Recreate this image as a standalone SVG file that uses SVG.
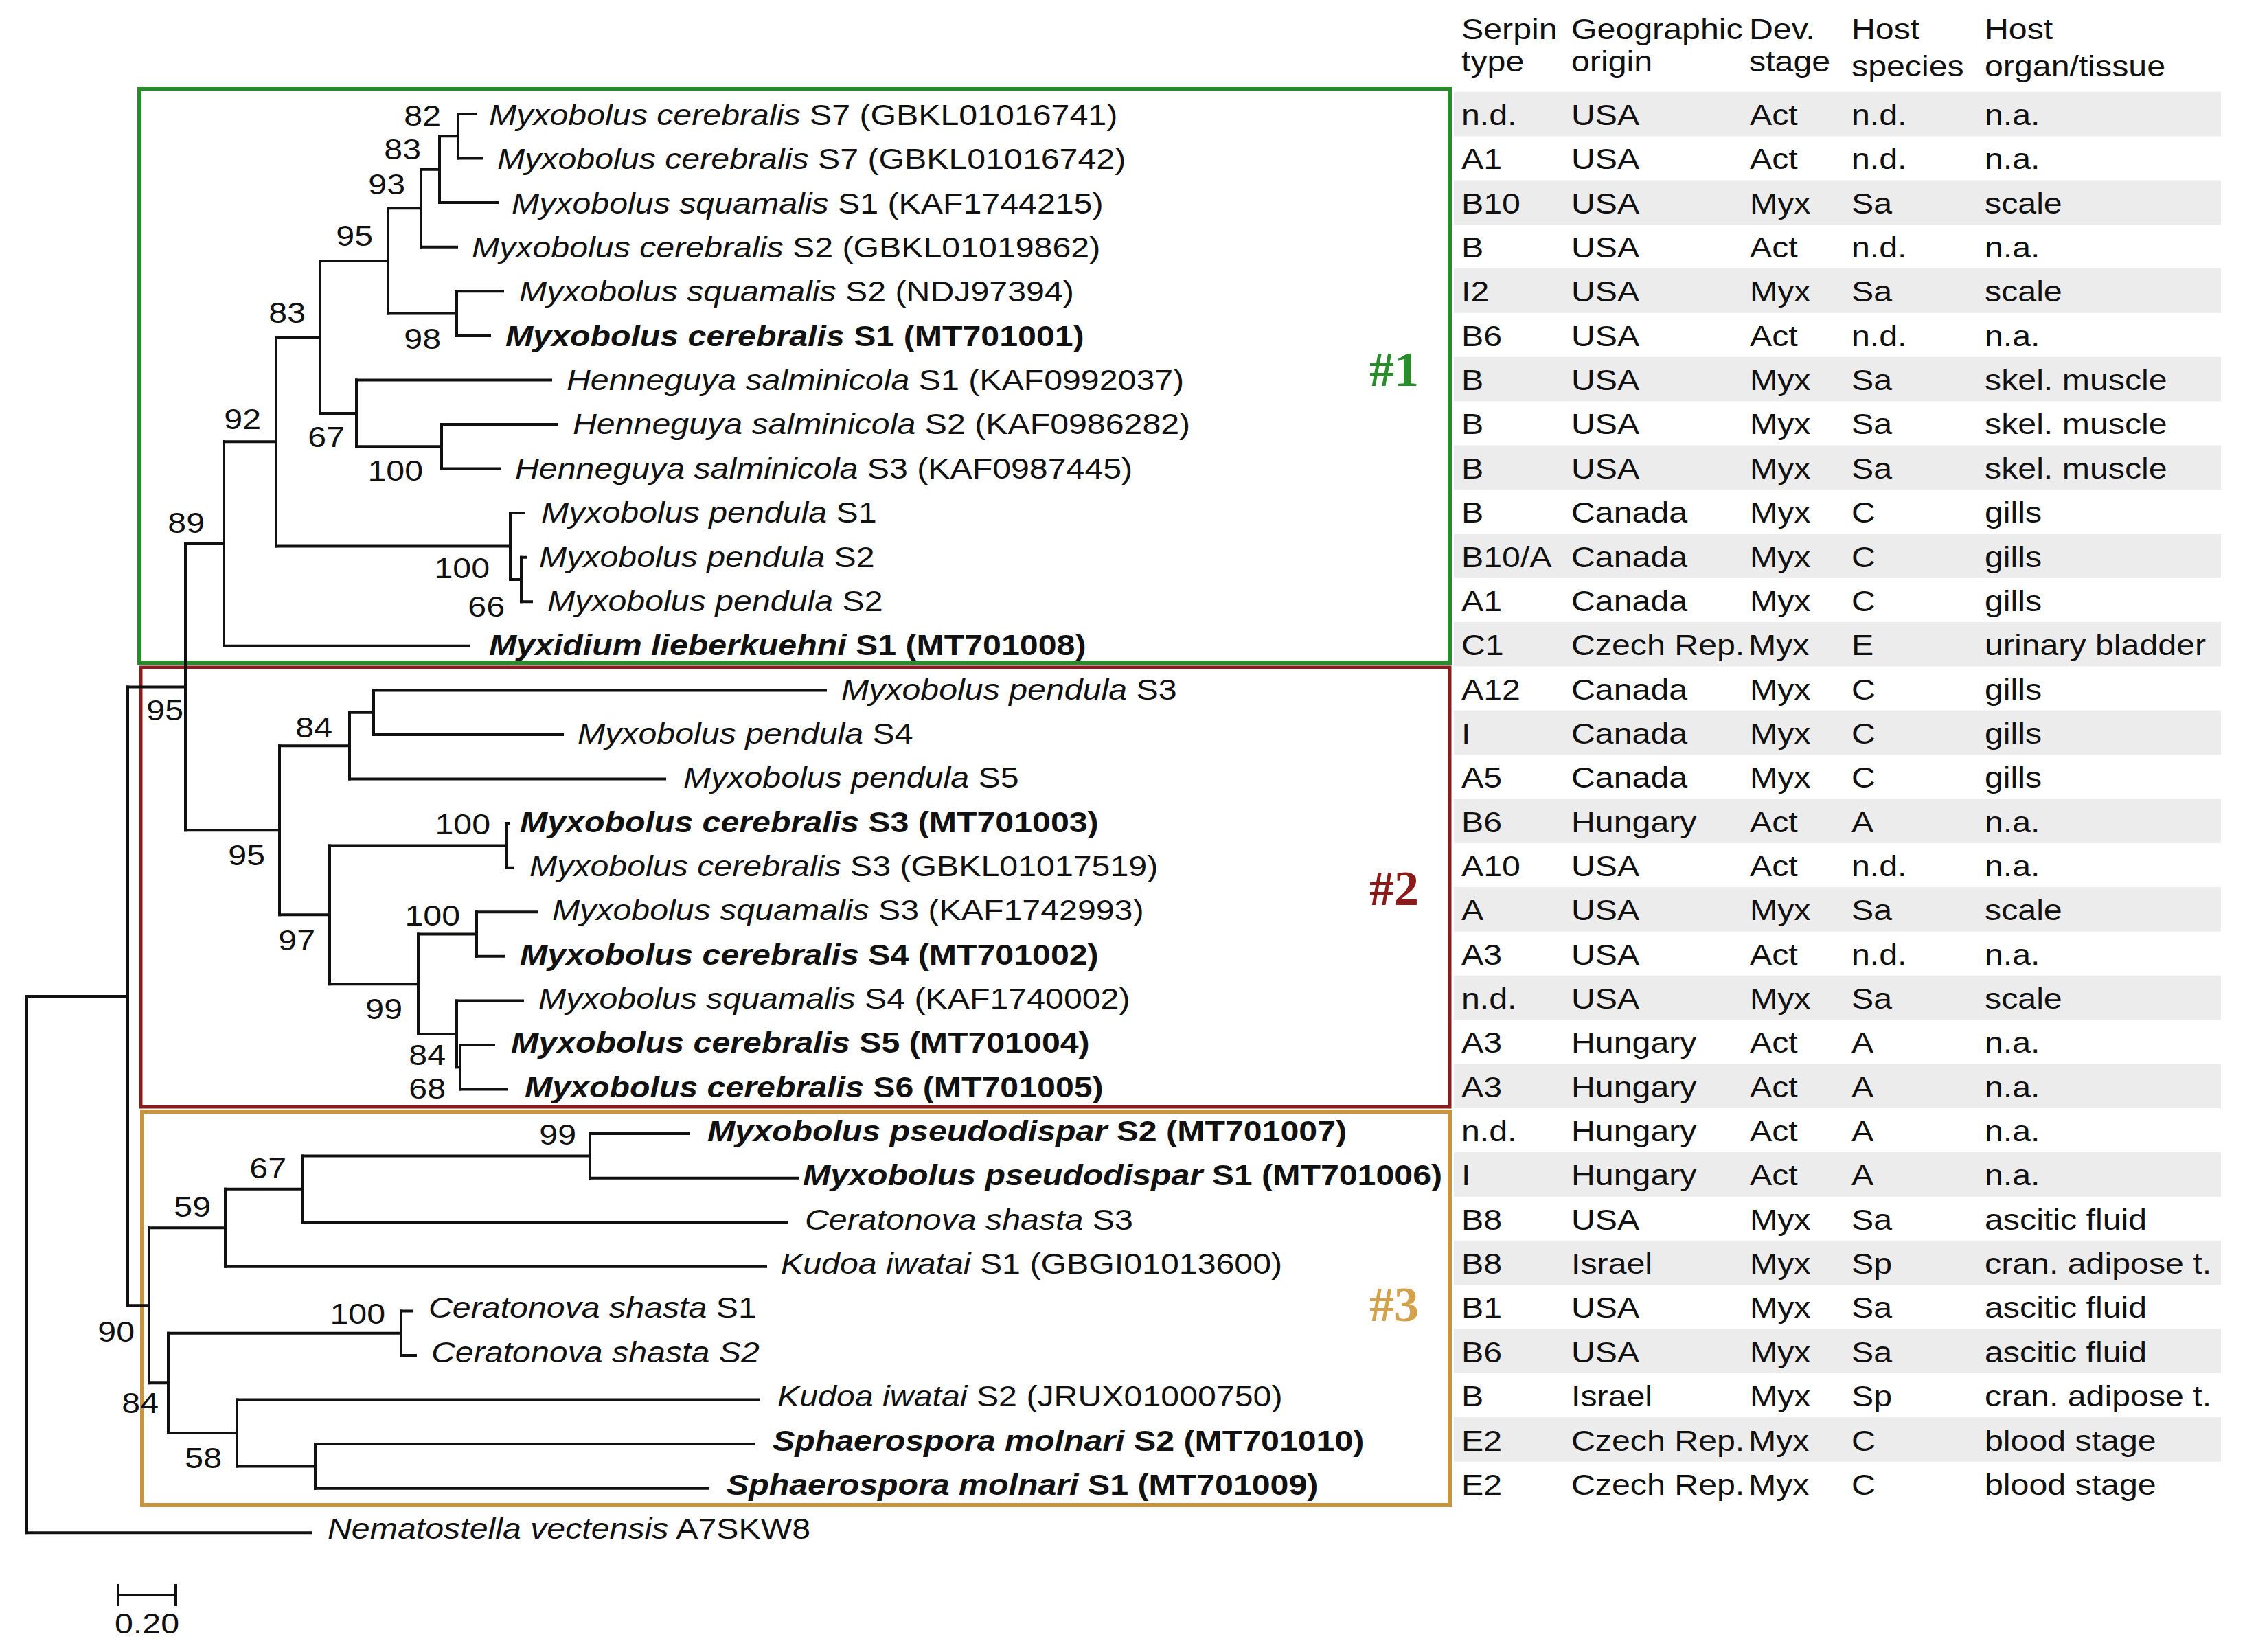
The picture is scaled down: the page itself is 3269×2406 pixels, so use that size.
<svg xmlns="http://www.w3.org/2000/svg" width="3269" height="2406" viewBox="0 0 3269 2406">
<style>
.t{font-family:"Liberation Sans",Arial,Helvetica,sans-serif;font-size:43px;fill:#111}
.i{font-style:italic}
.b{font-weight:bold}
.e{text-anchor:end}
.m{text-anchor:middle}
.br{fill:none;stroke:#111;stroke-width:4;stroke-linecap:square}
.hd{font-family:"Liberation Serif","Times New Roman",serif;font-weight:bold;font-size:72px}
.band{fill:#ececec}
</style>
<rect width="3269" height="2406" fill="#fff"/>

<g id="table-bands">
<rect class="band" x="2117" y="133.7" width="1117" height="64.6"/>
<rect class="band" x="2117" y="262.4" width="1117" height="64.6"/>
<rect class="band" x="2117" y="391.1" width="1117" height="64.6"/>
<rect class="band" x="2117" y="519.8" width="1117" height="64.6"/>
<rect class="band" x="2117" y="648.5" width="1117" height="64.6"/>
<rect class="band" x="2117" y="777.2" width="1117" height="64.6"/>
<rect class="band" x="2117" y="905.9" width="1117" height="64.6"/>
<rect class="band" x="2117" y="1034.6" width="1117" height="64.6"/>
<rect class="band" x="2117" y="1163.3" width="1117" height="64.6"/>
<rect class="band" x="2117" y="1292.0" width="1117" height="64.6"/>
<rect class="band" x="2117" y="1420.7" width="1117" height="64.6"/>
<rect class="band" x="2117" y="1549.4" width="1117" height="64.6"/>
<rect class="band" x="2117" y="1678.1" width="1117" height="64.6"/>
<rect class="band" x="2117" y="1806.8" width="1117" height="64.6"/>
<rect class="band" x="2117" y="1935.5" width="1117" height="64.6"/>
<rect class="band" x="2117" y="2064.2" width="1117" height="64.6"/>
</g>

<g id="clade-boxes" fill="none">
<rect x="203" y="129" width="1908" height="836" stroke="#2b8a2b" stroke-width="6"/>
<rect x="205" y="972" width="1906" height="640" stroke="#8b1c1c" stroke-width="5"/>
<rect x="207" y="1619" width="1904" height="573" stroke="#c89440" stroke-width="6"/>
<text class="hd" x="1994" y="562" fill="#2a8c2a">#1</text>
<text class="hd" x="1994" y="1318" fill="#8b1a1a">#2</text>
<text class="hd" x="1994" y="1924" fill="#d4a24c">#3</text>
</g>

<g id="connectors">
<path class="br" d="M667 166V230.6M640 198.3V295.1M613 246.7V359.7M665 424.3V488.9M565 303.2V456.6M643 618V682.6M519 553.4V650.3M466 379.9V601.9M759 811.7V876.3M743 747.1V844M402 490.9V795.5M326 643.2V940.8"/>
<path class="br" d="M544 1005.4V1070M509 1037.7V1134.6M737 1199.1V1263.7M694 1328.3V1392.8M670 1522V1586.5M665 1457.4V1554.3M609 1360.6V1505.9M480 1231.4V1433.2M407 1086.2V1332.3M270 792V1209.2"/>
<path class="br" d="M859 1651.1V1715.7M441 1683.4V1780.3M328 1731.8V1844.8M584 1909.4V1974M459 2103.1V2167.7M345 2038.5V2135.4M245 1941.7V2087M217 1788.3V2014.3M186 1000.6V1901.3M39 1451V2232.2"/>
<path class="br" d="M667 166H692M667 230.6H702M640 198.3H667M640 295.1H724M613 246.7H640M613 359.7H665M665 424.3H732M665 488.9H713M565 303.2H613M565 456.6H665M466 379.9H565M519 553.4H802M643 618H810M643 682.6H728M519 650.3H643M466 601.9H519M402 490.9H466M743 747.1H762M759 811.7H765M759 876.3H774M743 844H759M402 795.5H743M326 643.2H402M326 940.8H682M270 792H326"/>
<path class="br" d="M544 1005.4H1202M544 1070H819M509 1037.7H544M509 1134.6H968M407 1086.2H509M737 1199.1H741M737 1263.7H746M480 1231.4H737M694 1328.3H782M694 1392.8H733M609 1360.6H694M665 1457.4H761M670 1522H719M670 1586.5H737M665 1554.3H670M609 1505.9H665M480 1433.2H609M407 1332.3H480M270 1209.2H407M186 1000.6H270"/>
<path class="br" d="M859 1651.1H1003M859 1715.7H1162M441 1683.4H859M441 1780.3H1145M328 1731.8H441M328 1844.8H1115M217 1788.3H328M584 1909.4H600M584 1974H605M245 1941.7H584M345 2038.5H1105M459 2103.1H1097M459 2167.7H1031M345 2135.4H459M245 2087H345M217 2014.3H245M186 1901.3H217M39 1451H186M39 2232.2H452"/>
</g>

<g id="bootstrap">
<text class="t e" transform="matrix(1.123 0 0 1 642 183)">82</text>
<text class="t e" transform="matrix(1.123 0 0 1 613 232)">83</text>
<text class="t e" transform="matrix(1.123 0 0 1 590 283)">93</text>
<text class="t e" transform="matrix(1.123 0 0 1 543 358)">95</text>
<text class="t e" transform="matrix(1.123 0 0 1 642 508)">98</text>
<text class="t e" transform="matrix(1.123 0 0 1 445 470)">83</text>
<text class="t e" transform="matrix(1.123 0 0 1 502 651)">67</text>
<text class="t e" transform="matrix(1.123 0 0 1 616 700)">100</text>
<text class="t e" transform="matrix(1.123 0 0 1 380 625)">92</text>
<text class="t e" transform="matrix(1.123 0 0 1 713 842)">100</text>
<text class="t e" transform="matrix(1.123 0 0 1 735 898)">66</text>
<text class="t e" transform="matrix(1.123 0 0 1 298 776)">89</text>
<text class="t e" transform="matrix(1.123 0 0 1 267 1049)">95</text>
<text class="t e" transform="matrix(1.123 0 0 1 484 1074)">84</text>
<text class="t e" transform="matrix(1.123 0 0 1 386 1260)">95</text>
<text class="t e" transform="matrix(1.123 0 0 1 714 1215)">100</text>
<text class="t e" transform="matrix(1.123 0 0 1 459 1384)">97</text>
<text class="t e" transform="matrix(1.123 0 0 1 670 1348)">100</text>
<text class="t e" transform="matrix(1.123 0 0 1 586 1484)">99</text>
<text class="t e" transform="matrix(1.123 0 0 1 649 1551)">84</text>
<text class="t e" transform="matrix(1.123 0 0 1 649 1600)">68</text>
<text class="t e" transform="matrix(1.123 0 0 1 839 1667)">99</text>
<text class="t e" transform="matrix(1.123 0 0 1 417 1716)">67</text>
<text class="t e" transform="matrix(1.123 0 0 1 307 1772)">59</text>
<text class="t e" transform="matrix(1.123 0 0 1 196 1954)">90</text>
<text class="t e" transform="matrix(1.123 0 0 1 561 1928)">100</text>
<text class="t e" transform="matrix(1.123 0 0 1 231 2058)">84</text>
<text class="t e" transform="matrix(1.123 0 0 1 323 2138)">58</text>
</g>

<g id="leaf-01"><text class="t" transform="matrix(1.123 0 0 1 712 182)"><tspan class="i">Myxobolus cerebralis</tspan> S7 (GBKL01016741)</text></g>
<g id="leaf-02"><text class="t" transform="matrix(1.123 0 0 1 724 246.35)"><tspan class="i">Myxobolus cerebralis</tspan> S7 (GBKL01016742)</text></g>
<g id="leaf-03"><text class="t" transform="matrix(1.123 0 0 1 745 310.7)"><tspan class="i">Myxobolus squamalis</tspan> S1 (KAF1744215)</text></g>
<g id="leaf-04"><text class="t" transform="matrix(1.123 0 0 1 687 375.05)"><tspan class="i">Myxobolus cerebralis</tspan> S2 (GBKL01019862)</text></g>
<g id="leaf-05"><text class="t" transform="matrix(1.123 0 0 1 756 439.4)"><tspan class="i">Myxobolus squamalis</tspan> S2 (NDJ97394)</text></g>
<g id="leaf-06"><text class="t b" transform="matrix(1.123 0 0 1 736 503.75)"><tspan class="i">Myxobolus cerebralis</tspan> S1 (MT701001)</text></g>
<g id="leaf-07"><text class="t" transform="matrix(1.123 0 0 1 825 568.1)"><tspan class="i">Henneguya salminicola</tspan> S1 (KAF0992037)</text></g>
<g id="leaf-08"><text class="t" transform="matrix(1.123 0 0 1 834 632.45)"><tspan class="i">Henneguya salminicola</tspan> S2 (KAF0986282)</text></g>
<g id="leaf-09"><text class="t" transform="matrix(1.123 0 0 1 750 696.8)"><tspan class="i">Henneguya salminicola</tspan> S3 (KAF0987445)</text></g>
<g id="leaf-10"><text class="t" transform="matrix(1.123 0 0 1 788 761.15)"><tspan class="i">Myxobolus pendula</tspan> S1</text></g>
<g id="leaf-11"><text class="t" transform="matrix(1.123 0 0 1 785 825.5)"><tspan class="i">Myxobolus pendula</tspan> S2</text></g>
<g id="leaf-12"><text class="t" transform="matrix(1.123 0 0 1 797 889.85)"><tspan class="i">Myxobolus pendula</tspan> S2</text></g>
<g id="leaf-13"><text class="t b" transform="matrix(1.123 0 0 1 712 954.2)"><tspan class="i">Myxidium lieberkuehni</tspan> S1 (MT701008)</text></g>
<g id="leaf-14"><text class="t" transform="matrix(1.123 0 0 1 1225 1018.55)"><tspan class="i">Myxobolus pendula</tspan> S3</text></g>
<g id="leaf-15"><text class="t" transform="matrix(1.123 0 0 1 841 1082.9)"><tspan class="i">Myxobolus pendula</tspan> S4</text></g>
<g id="leaf-16"><text class="t" transform="matrix(1.123 0 0 1 995 1147.25)"><tspan class="i">Myxobolus pendula</tspan> S5</text></g>
<g id="leaf-17"><text class="t b" transform="matrix(1.123 0 0 1 757 1211.6)"><tspan class="i">Myxobolus cerebralis</tspan> S3 (MT701003)</text></g>
<g id="leaf-18"><text class="t" transform="matrix(1.123 0 0 1 771 1275.95)"><tspan class="i">Myxobolus cerebralis</tspan> S3 (GBKL01017519)</text></g>
<g id="leaf-19"><text class="t" transform="matrix(1.123 0 0 1 804 1340.3)"><tspan class="i">Myxobolus squamalis</tspan> S3 (KAF1742993)</text></g>
<g id="leaf-20"><text class="t b" transform="matrix(1.123 0 0 1 757 1404.65)"><tspan class="i">Myxobolus cerebralis</tspan> S4 (MT701002)</text></g>
<g id="leaf-21"><text class="t" transform="matrix(1.123 0 0 1 784 1469)"><tspan class="i">Myxobolus squamalis</tspan> S4 (KAF1740002)</text></g>
<g id="leaf-22"><text class="t b" transform="matrix(1.123 0 0 1 744 1533.35)"><tspan class="i">Myxobolus cerebralis</tspan> S5 (MT701004)</text></g>
<g id="leaf-23"><text class="t b" transform="matrix(1.123 0 0 1 764 1597.7)"><tspan class="i">Myxobolus cerebralis</tspan> S6 (MT701005)</text></g>
<g id="leaf-24"><text class="t b" transform="matrix(1.123 0 0 1 1030 1662.05)"><tspan class="i">Myxobolus pseudodispar</tspan> S2 (MT701007)</text></g>
<g id="leaf-25"><text class="t b" transform="matrix(1.123 0 0 1 1169 1726.4)"><tspan class="i">Myxobolus pseudodispar</tspan> S1 (MT701006)</text></g>
<g id="leaf-26"><text class="t" transform="matrix(1.123 0 0 1 1172 1790.75)"><tspan class="i">Ceratonova shasta</tspan> S3</text></g>
<g id="leaf-27"><text class="t" transform="matrix(1.123 0 0 1 1137 1855.1)"><tspan class="i">Kudoa iwatai</tspan> S1 (GBGI01013600)</text></g>
<g id="leaf-28"><text class="t" transform="matrix(1.123 0 0 1 624 1919.45)"><tspan class="i">Ceratonova shasta</tspan> S1</text></g>
<g id="leaf-29"><text class="t" transform="matrix(1.123 0 0 1 628 1983.8)"><tspan class="i">Ceratonova shasta S2</tspan></text></g>
<g id="leaf-30"><text class="t" transform="matrix(1.123 0 0 1 1132 2048.15)"><tspan class="i">Kudoa iwatai</tspan> S2 (JRUX01000750)</text></g>
<g id="leaf-31"><text class="t b" transform="matrix(1.123 0 0 1 1125 2112.5)"><tspan class="i">Sphaerospora molnari</tspan> S2 (MT701010)</text></g>
<g id="leaf-32"><text class="t b" transform="matrix(1.123 0 0 1 1058 2176.85)"><tspan class="i">Sphaerospora molnari</tspan> S1 (MT701009)</text></g>
<g id="leaf-33"><text class="t" transform="matrix(1.123 0 0 1 477 2241.2)"><tspan class="i">Nematostella vectensis</tspan> A7SKW8</text></g>

<g id="scale-bar">
<path class="br" d="M172 2323H256M172 2309V2337M256 2309V2337" stroke-linecap="butt"/>
<text class="t m" transform="matrix(1.123 0 0 1 214 2379)">0.20</text>
</g>

<g id="table-header">
<text class="t" transform="matrix(1.123 0 0 1 2128 57)">Serpin</text>
<text class="t" transform="matrix(1.123 0 0 1 2128 104)">type</text>
<text class="t" transform="matrix(1.123 0 0 1 2288 57)">Geographic</text>
<text class="t" transform="matrix(1.123 0 0 1 2288 104)">origin</text>
<text class="t" transform="matrix(1.123 0 0 1 2547 57)">Dev.</text>
<text class="t" transform="matrix(1.123 0 0 1 2547 104)">stage</text>
<text class="t" transform="matrix(1.123 0 0 1 2696 57)">Host</text>
<text class="t" transform="matrix(1.123 0 0 1 2696 111)">species</text>
<text class="t" transform="matrix(1.123 0 0 1 2890 57)">Host</text>
<text class="t" transform="matrix(1.123 0 0 1 2890 111)">organ/tissue</text>
</g>

<g id="table-rows">
<g transform="translate(0 182)"><text class="t" transform="matrix(1.123 0 0 1 2128 0)">n.d.</text><text class="t" transform="matrix(1.123 0 0 1 2288 0)">USA</text><text class="t" transform="matrix(1.123 0 0 1 2548 0)">Act</text><text class="t" transform="matrix(1.123 0 0 1 2696 0)">n.d.</text><text class="t" transform="matrix(1.123 0 0 1 2890 0)">n.a.</text></g>
<g transform="translate(0 246.35)"><text class="t" transform="matrix(1.123 0 0 1 2128 0)">A1</text><text class="t" transform="matrix(1.123 0 0 1 2288 0)">USA</text><text class="t" transform="matrix(1.123 0 0 1 2548 0)">Act</text><text class="t" transform="matrix(1.123 0 0 1 2696 0)">n.d.</text><text class="t" transform="matrix(1.123 0 0 1 2890 0)">n.a.</text></g>
<g transform="translate(0 310.7)"><text class="t" transform="matrix(1.123 0 0 1 2128 0)">B10</text><text class="t" transform="matrix(1.123 0 0 1 2288 0)">USA</text><text class="t" transform="matrix(1.123 0 0 1 2548 0)">Myx</text><text class="t" transform="matrix(1.123 0 0 1 2696 0)">Sa</text><text class="t" transform="matrix(1.123 0 0 1 2890 0)">scale</text></g>
<g transform="translate(0 375.05)"><text class="t" transform="matrix(1.123 0 0 1 2128 0)">B</text><text class="t" transform="matrix(1.123 0 0 1 2288 0)">USA</text><text class="t" transform="matrix(1.123 0 0 1 2548 0)">Act</text><text class="t" transform="matrix(1.123 0 0 1 2696 0)">n.d.</text><text class="t" transform="matrix(1.123 0 0 1 2890 0)">n.a.</text></g>
<g transform="translate(0 439.4)"><text class="t" transform="matrix(1.123 0 0 1 2128 0)">I2</text><text class="t" transform="matrix(1.123 0 0 1 2288 0)">USA</text><text class="t" transform="matrix(1.123 0 0 1 2548 0)">Myx</text><text class="t" transform="matrix(1.123 0 0 1 2696 0)">Sa</text><text class="t" transform="matrix(1.123 0 0 1 2890 0)">scale</text></g>
<g transform="translate(0 503.75)"><text class="t" transform="matrix(1.123 0 0 1 2128 0)">B6</text><text class="t" transform="matrix(1.123 0 0 1 2288 0)">USA</text><text class="t" transform="matrix(1.123 0 0 1 2548 0)">Act</text><text class="t" transform="matrix(1.123 0 0 1 2696 0)">n.d.</text><text class="t" transform="matrix(1.123 0 0 1 2890 0)">n.a.</text></g>
<g transform="translate(0 568.1)"><text class="t" transform="matrix(1.123 0 0 1 2128 0)">B</text><text class="t" transform="matrix(1.123 0 0 1 2288 0)">USA</text><text class="t" transform="matrix(1.123 0 0 1 2548 0)">Myx</text><text class="t" transform="matrix(1.123 0 0 1 2696 0)">Sa</text><text class="t" transform="matrix(1.123 0 0 1 2890 0)">skel. muscle</text></g>
<g transform="translate(0 632.45)"><text class="t" transform="matrix(1.123 0 0 1 2128 0)">B</text><text class="t" transform="matrix(1.123 0 0 1 2288 0)">USA</text><text class="t" transform="matrix(1.123 0 0 1 2548 0)">Myx</text><text class="t" transform="matrix(1.123 0 0 1 2696 0)">Sa</text><text class="t" transform="matrix(1.123 0 0 1 2890 0)">skel. muscle</text></g>
<g transform="translate(0 696.8)"><text class="t" transform="matrix(1.123 0 0 1 2128 0)">B</text><text class="t" transform="matrix(1.123 0 0 1 2288 0)">USA</text><text class="t" transform="matrix(1.123 0 0 1 2548 0)">Myx</text><text class="t" transform="matrix(1.123 0 0 1 2696 0)">Sa</text><text class="t" transform="matrix(1.123 0 0 1 2890 0)">skel. muscle</text></g>
<g transform="translate(0 761.15)"><text class="t" transform="matrix(1.123 0 0 1 2128 0)">B</text><text class="t" transform="matrix(1.123 0 0 1 2288 0)">Canada</text><text class="t" transform="matrix(1.123 0 0 1 2548 0)">Myx</text><text class="t" transform="matrix(1.123 0 0 1 2696 0)">C</text><text class="t" transform="matrix(1.123 0 0 1 2890 0)">gills</text></g>
<g transform="translate(0 825.5)"><text class="t" transform="matrix(1.123 0 0 1 2128 0)">B10/A</text><text class="t" transform="matrix(1.123 0 0 1 2288 0)">Canada</text><text class="t" transform="matrix(1.123 0 0 1 2548 0)">Myx</text><text class="t" transform="matrix(1.123 0 0 1 2696 0)">C</text><text class="t" transform="matrix(1.123 0 0 1 2890 0)">gills</text></g>
<g transform="translate(0 889.85)"><text class="t" transform="matrix(1.123 0 0 1 2128 0)">A1</text><text class="t" transform="matrix(1.123 0 0 1 2288 0)">Canada</text><text class="t" transform="matrix(1.123 0 0 1 2548 0)">Myx</text><text class="t" transform="matrix(1.123 0 0 1 2696 0)">C</text><text class="t" transform="matrix(1.123 0 0 1 2890 0)">gills</text></g>
<g transform="translate(0 954.2)"><text class="t" transform="matrix(1.123 0 0 1 2128 0)">C1</text><text class="t" transform="matrix(1.123 0 0 1 2288 0)">Czech Rep.</text><text class="t" transform="matrix(1.123 0 0 1 2546 0)">Myx</text><text class="t" transform="matrix(1.123 0 0 1 2696 0)">E</text><text class="t" transform="matrix(1.123 0 0 1 2890 0)">urinary bladder</text></g>
<g transform="translate(0 1018.55)"><text class="t" transform="matrix(1.123 0 0 1 2128 0)">A12</text><text class="t" transform="matrix(1.123 0 0 1 2288 0)">Canada</text><text class="t" transform="matrix(1.123 0 0 1 2548 0)">Myx</text><text class="t" transform="matrix(1.123 0 0 1 2696 0)">C</text><text class="t" transform="matrix(1.123 0 0 1 2890 0)">gills</text></g>
<g transform="translate(0 1082.9)"><text class="t" transform="matrix(1.123 0 0 1 2128 0)">I</text><text class="t" transform="matrix(1.123 0 0 1 2288 0)">Canada</text><text class="t" transform="matrix(1.123 0 0 1 2548 0)">Myx</text><text class="t" transform="matrix(1.123 0 0 1 2696 0)">C</text><text class="t" transform="matrix(1.123 0 0 1 2890 0)">gills</text></g>
<g transform="translate(0 1147.25)"><text class="t" transform="matrix(1.123 0 0 1 2128 0)">A5</text><text class="t" transform="matrix(1.123 0 0 1 2288 0)">Canada</text><text class="t" transform="matrix(1.123 0 0 1 2548 0)">Myx</text><text class="t" transform="matrix(1.123 0 0 1 2696 0)">C</text><text class="t" transform="matrix(1.123 0 0 1 2890 0)">gills</text></g>
<g transform="translate(0 1211.6)"><text class="t" transform="matrix(1.123 0 0 1 2128 0)">B6</text><text class="t" transform="matrix(1.123 0 0 1 2288 0)">Hungary</text><text class="t" transform="matrix(1.123 0 0 1 2548 0)">Act</text><text class="t" transform="matrix(1.123 0 0 1 2696 0)">A</text><text class="t" transform="matrix(1.123 0 0 1 2890 0)">n.a.</text></g>
<g transform="translate(0 1275.95)"><text class="t" transform="matrix(1.123 0 0 1 2128 0)">A10</text><text class="t" transform="matrix(1.123 0 0 1 2288 0)">USA</text><text class="t" transform="matrix(1.123 0 0 1 2548 0)">Act</text><text class="t" transform="matrix(1.123 0 0 1 2696 0)">n.d.</text><text class="t" transform="matrix(1.123 0 0 1 2890 0)">n.a.</text></g>
<g transform="translate(0 1340.3)"><text class="t" transform="matrix(1.123 0 0 1 2128 0)">A</text><text class="t" transform="matrix(1.123 0 0 1 2288 0)">USA</text><text class="t" transform="matrix(1.123 0 0 1 2548 0)">Myx</text><text class="t" transform="matrix(1.123 0 0 1 2696 0)">Sa</text><text class="t" transform="matrix(1.123 0 0 1 2890 0)">scale</text></g>
<g transform="translate(0 1404.65)"><text class="t" transform="matrix(1.123 0 0 1 2128 0)">A3</text><text class="t" transform="matrix(1.123 0 0 1 2288 0)">USA</text><text class="t" transform="matrix(1.123 0 0 1 2548 0)">Act</text><text class="t" transform="matrix(1.123 0 0 1 2696 0)">n.d.</text><text class="t" transform="matrix(1.123 0 0 1 2890 0)">n.a.</text></g>
<g transform="translate(0 1469)"><text class="t" transform="matrix(1.123 0 0 1 2128 0)">n.d.</text><text class="t" transform="matrix(1.123 0 0 1 2288 0)">USA</text><text class="t" transform="matrix(1.123 0 0 1 2548 0)">Myx</text><text class="t" transform="matrix(1.123 0 0 1 2696 0)">Sa</text><text class="t" transform="matrix(1.123 0 0 1 2890 0)">scale</text></g>
<g transform="translate(0 1533.35)"><text class="t" transform="matrix(1.123 0 0 1 2128 0)">A3</text><text class="t" transform="matrix(1.123 0 0 1 2288 0)">Hungary</text><text class="t" transform="matrix(1.123 0 0 1 2548 0)">Act</text><text class="t" transform="matrix(1.123 0 0 1 2696 0)">A</text><text class="t" transform="matrix(1.123 0 0 1 2890 0)">n.a.</text></g>
<g transform="translate(0 1597.7)"><text class="t" transform="matrix(1.123 0 0 1 2128 0)">A3</text><text class="t" transform="matrix(1.123 0 0 1 2288 0)">Hungary</text><text class="t" transform="matrix(1.123 0 0 1 2548 0)">Act</text><text class="t" transform="matrix(1.123 0 0 1 2696 0)">A</text><text class="t" transform="matrix(1.123 0 0 1 2890 0)">n.a.</text></g>
<g transform="translate(0 1662.05)"><text class="t" transform="matrix(1.123 0 0 1 2128 0)">n.d.</text><text class="t" transform="matrix(1.123 0 0 1 2288 0)">Hungary</text><text class="t" transform="matrix(1.123 0 0 1 2548 0)">Act</text><text class="t" transform="matrix(1.123 0 0 1 2696 0)">A</text><text class="t" transform="matrix(1.123 0 0 1 2890 0)">n.a.</text></g>
<g transform="translate(0 1726.4)"><text class="t" transform="matrix(1.123 0 0 1 2128 0)">I</text><text class="t" transform="matrix(1.123 0 0 1 2288 0)">Hungary</text><text class="t" transform="matrix(1.123 0 0 1 2548 0)">Act</text><text class="t" transform="matrix(1.123 0 0 1 2696 0)">A</text><text class="t" transform="matrix(1.123 0 0 1 2890 0)">n.a.</text></g>
<g transform="translate(0 1790.75)"><text class="t" transform="matrix(1.123 0 0 1 2128 0)">B8</text><text class="t" transform="matrix(1.123 0 0 1 2288 0)">USA</text><text class="t" transform="matrix(1.123 0 0 1 2548 0)">Myx</text><text class="t" transform="matrix(1.123 0 0 1 2696 0)">Sa</text><text class="t" transform="matrix(1.123 0 0 1 2890 0)">ascitic fluid</text></g>
<g transform="translate(0 1855.1)"><text class="t" transform="matrix(1.123 0 0 1 2128 0)">B8</text><text class="t" transform="matrix(1.123 0 0 1 2288 0)">Israel</text><text class="t" transform="matrix(1.123 0 0 1 2548 0)">Myx</text><text class="t" transform="matrix(1.123 0 0 1 2696 0)">Sp</text><text class="t" transform="matrix(1.123 0 0 1 2890 0)">cran. adipose t.</text></g>
<g transform="translate(0 1919.45)"><text class="t" transform="matrix(1.123 0 0 1 2128 0)">B1</text><text class="t" transform="matrix(1.123 0 0 1 2288 0)">USA</text><text class="t" transform="matrix(1.123 0 0 1 2548 0)">Myx</text><text class="t" transform="matrix(1.123 0 0 1 2696 0)">Sa</text><text class="t" transform="matrix(1.123 0 0 1 2890 0)">ascitic fluid</text></g>
<g transform="translate(0 1983.8)"><text class="t" transform="matrix(1.123 0 0 1 2128 0)">B6</text><text class="t" transform="matrix(1.123 0 0 1 2288 0)">USA</text><text class="t" transform="matrix(1.123 0 0 1 2548 0)">Myx</text><text class="t" transform="matrix(1.123 0 0 1 2696 0)">Sa</text><text class="t" transform="matrix(1.123 0 0 1 2890 0)">ascitic fluid</text></g>
<g transform="translate(0 2048.15)"><text class="t" transform="matrix(1.123 0 0 1 2128 0)">B</text><text class="t" transform="matrix(1.123 0 0 1 2288 0)">Israel</text><text class="t" transform="matrix(1.123 0 0 1 2548 0)">Myx</text><text class="t" transform="matrix(1.123 0 0 1 2696 0)">Sp</text><text class="t" transform="matrix(1.123 0 0 1 2890 0)">cran. adipose t.</text></g>
<g transform="translate(0 2112.5)"><text class="t" transform="matrix(1.123 0 0 1 2128 0)">E2</text><text class="t" transform="matrix(1.123 0 0 1 2288 0)">Czech Rep.</text><text class="t" transform="matrix(1.123 0 0 1 2546 0)">Myx</text><text class="t" transform="matrix(1.123 0 0 1 2696 0)">C</text><text class="t" transform="matrix(1.123 0 0 1 2890 0)">blood stage</text></g>
<g transform="translate(0 2176.85)"><text class="t" transform="matrix(1.123 0 0 1 2128 0)">E2</text><text class="t" transform="matrix(1.123 0 0 1 2288 0)">Czech Rep.</text><text class="t" transform="matrix(1.123 0 0 1 2546 0)">Myx</text><text class="t" transform="matrix(1.123 0 0 1 2696 0)">C</text><text class="t" transform="matrix(1.123 0 0 1 2890 0)">blood stage</text></g>
</g>
</svg>
